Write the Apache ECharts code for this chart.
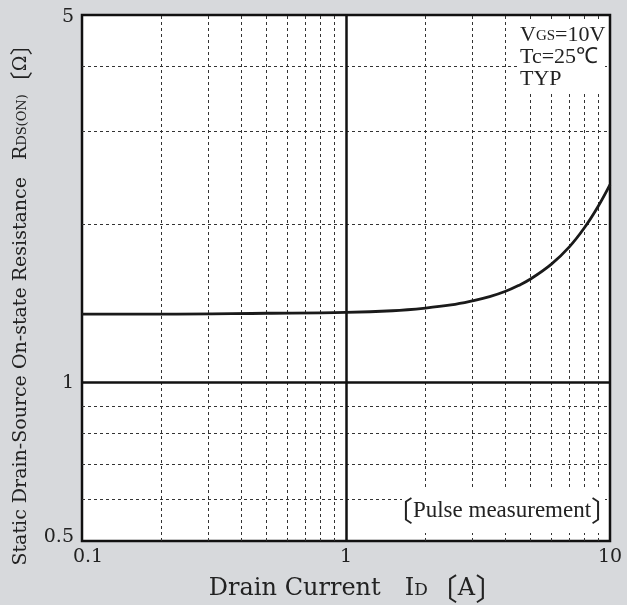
<!DOCTYPE html>
<html>
<head>
<meta charset="utf-8">
<script src="https://cdn.jsdelivr.net/npm/echarts@6/dist/echarts.min.js"></script>
<style>
html,body{margin:0;padding:0;background:#d7d9dc;}
#chart{width:627px;height:605px;}
</style>
</head>
<body>
<div id="chart"></div>
<script>
// Data
const drainCurrent = [0.1, 0.2, 0.5, 1, 1.5, 2, 2.5, 3, 3.5, 4, 4.5, 5, 6, 7, 8, 9, 10];
const resistance   = [1.35, 1.35, 1.355, 1.36, 1.37, 1.386, 1.405, 1.43, 1.457, 1.49, 1.53, 1.574, 1.68, 1.81, 1.97, 2.16, 2.38];
const xMinorGrid = [0.2, 0.3, 0.4, 0.5, 0.6, 0.7, 0.8, 0.9, 2, 3, 4, 5, 6, 7, 8, 9];
const yMinorGrid = [0.6, 0.7, 0.8, 0.9, 2, 3, 4];
const xMajorGrid = [1];
const yMajorGrid = [1];
const xTickLabels = [0.1, 1, 10];
const yTickLabels = [0.5, 1, 5];

const SERIF = '"DejaVu Serif", serif';
const TIMES = '"Liberation Serif", "Times New Roman", serif';
const CJK = '"Noto Sans CJK JP", sans-serif';
const TXT = '#222';

const dashStyle = {color: '#333', width: 1, type: [3, 3]};
const solidStyle = {color: '#111', width: 2.5, type: 'solid'};

const markData = [];
xMinorGrid.forEach(v => markData.push({xAxis: v, lineStyle: dashStyle}));
yMinorGrid.forEach(v => markData.push({yAxis: v, lineStyle: dashStyle}));
xMajorGrid.forEach(v => markData.push({xAxis: v, lineStyle: solidStyle}));
yMajorGrid.forEach(v => markData.push({yAxis: v, lineStyle: solidStyle}));

const chart = echarts.init(document.getElementById('chart'), null, {renderer: 'canvas'});
chart.setOption({
  backgroundColor: '#d7d9dc',
  animation: false,
  grid: {
    left: 82, top: 15, right: 17, bottom: 64,
    show: true, backgroundColor: '#ffffff', borderColor: '#111', borderWidth: 2.5
  },
  xAxis: {
    type: 'log', logBase: 10, min: 0.1, max: 10,
    axisLine: {show: false}, axisTick: {show: false},
    splitLine: {show: false}, minorSplitLine: {show: false},
    axisLabel: {
      show: true, margin: 7, color: TXT, fontFamily: SERIF, fontSize: 19,
      customValues: xTickLabels,
      formatter: function (v) {
        if (Math.abs(v - 0.1) < 1e-9) return '{m|0.1}';
        return String(Math.round(v));
      },
      rich: {m: {padding: [0, 0, 0, 12], fontFamily: SERIF, fontSize: 19, color: TXT}}
    }
  },
  yAxis: {
    type: 'log', logBase: 10, min: 0.5, max: 5,
    axisLine: {show: false}, axisTick: {show: false},
    splitLine: {show: false}, minorSplitLine: {show: false},
    axisLabel: {
      show: true, margin: 8, color: TXT, fontFamily: SERIF, fontSize: 19,
      customValues: yTickLabels,
      formatter: function (v) {
        if (Math.abs(v - 0.5) < 1e-9) return '{b|0.5}';
        if (Math.abs(v - 5) < 1e-9) return '{t|5}';
        return String(Math.round(v));
      },
      rich: {
        b: {padding: [0, 0, 8, 0], fontFamily: SERIF, fontSize: 19, color: TXT},
        t: {padding: [4, 0, 0, 0], fontFamily: SERIF, fontSize: 19, color: TXT}
      }
    }
  },
  series: [{
    type: 'line',
    data: drainCurrent.map((x, i) => [x, resistance[i]]),
    showSymbol: false,
    smooth: 0.4,
    lineStyle: {color: '#1a1a1a', width: 2.8},
    z: 5,
    markLine: {
      silent: true, symbol: ['none', 'none'], label: {show: false},
      animation: false,
      data: markData
    }
  }],
  graphic: [
    {type: 'rect', z: 100, shape: {x: 517, y: 21, width: 88, height: 71}, style: {fill: '#fff'}},
    {type: 'text', z: 101, x: 520, y: 35, style: {
      text: 'V{s|GS}=10V', fill: TXT, font: '22px ' + TIMES, verticalAlign: 'middle', align: 'left',
      rich: {s: {fontSize: 15, fontFamily: TIMES, fill: TXT, padding: [3, 0, 0, 0]}}
    }},
    {type: 'text', z: 101, x: 520, y: 57, style: {
      text: 'Tc=25℃', fill: TXT, font: '22px ' + TIMES, verticalAlign: 'middle', align: 'left'
    }},
    {type: 'text', z: 101, x: 520, y: 79, style: {
      text: 'TYP', fill: TXT, font: '22px ' + TIMES, verticalAlign: 'middle', align: 'left'
    }},
    {type: 'rect', z: 100, shape: {x: 402, y: 488, width: 203, height: 45}, style: {fill: '#fff'}},
    {type: 'text', z: 101, x: 502, y: 511, style: {
      text: '{b|〔}Pulse measurement{b|〕}', fill: TXT, font: '23px ' + TIMES, verticalAlign: 'middle', align: 'center',
      rich: {b: {fontSize: 28, fontFamily: CJK, fill: TXT}}
    }},
    {type: 'text', z: 101, x: 357, y: 589, style: {
      text: 'Drain Current{g| }I{s|D}{b|〔}A{b|〕}', fill: TXT, font: '24px ' + SERIF, verticalAlign: 'middle', align: 'center',
      rich: {
        g: {fontSize: 24, fontFamily: SERIF, width: 24},
        s: {fontSize: 17, fontFamily: SERIF, fill: TXT, padding: [4, 0, 0, 0]},
        b: {fontSize: 30, fontFamily: CJK, fill: TXT}
      }
    }},
    {type: 'text', z: 101, x: 21, y: 299, rotation: Math.PI / 2, style: {
      text: 'Static Drain-Source On-state Resistance{g| }R{s|DS(ON)}{b|〔}Ω{b|〕}', fill: TXT, font: '19px ' + SERIF,
      verticalAlign: 'middle', align: 'center',
      rich: {
        g: {fontSize: 19, fontFamily: SERIF, width: 17},
        s: {fontSize: 13, fontFamily: SERIF, fill: TXT, padding: [3, 0, 0, 0]},
        b: {fontSize: 23, fontFamily: CJK, fill: TXT}
      }
    }}
  ]
});
</script>
</body>
</html>
